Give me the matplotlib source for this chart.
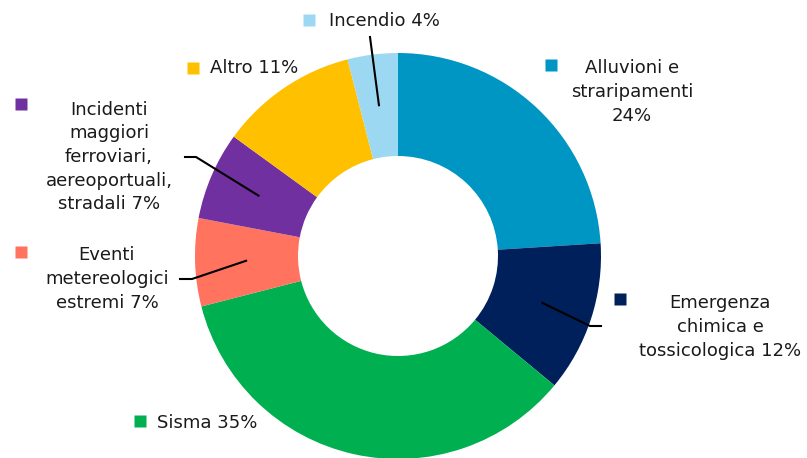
import numpy as np
import matplotlib
matplotlib.use("Agg")
import matplotlib.pyplot as plt

# data (clockwise from 12 o'clock)
categories = ["Alluvioni e\nstraripamenti\n24%", "Emergenza\nchimica e\ntossicologica 12%",
              "Sisma 35%", "Eventi\nmetereologici\nestremi 7%",
              "Incidenti\nmaggiori\nferroviari,\naereoportuali,\nstradali 7%",
              "Altro 11%", "Incendio 4%"]
values = [24, 12, 35, 7, 7, 11, 4]
colors = ["#0096C3", "#00205B", "#00B050", "#FF735F", "#7030A0", "#FFC000", "#9DD8F2"]

W, H = 807, 458
cx, cy, R, r_in = 398, 256, 203, 100

fig = plt.figure(figsize=(W / 100, H / 100), dpi=100)
ax = fig.add_axes([0, 0, 1, 1])

def py(y):  # pixel row -> data y
    return H - y

wedges, _ = ax.pie(values, colors=colors, startangle=90, counterclock=False,
                   center=(cx, py(cy)), radius=R,
                   wedgeprops=dict(width=R - r_in, linewidth=0), frame=True)
ax.set_xlim(0, W)
ax.set_ylim(0, H)
ax.axis("off")

# label layout: (square x, square y, text x, text y, ha, leader points or None)
layout = [
    (551, 65, 632, 92, "center", None),
    (620, 299, 720, 327, "center", [(601, 326), (590, 326)]),
    (140, 421, 157, 423, "left", None),
    (21, 252, 107, 279, "center", [(180, 279), (192, 279)]),
    (21, 104, 109, 157, "center", [(185, 157), (196, 157)]),
    (193, 68, 210, 68, "left", None),
    (309, 20, 329, 21, "left", [(370, 37)]),
]

tc = "#1A1A1A"
cum = np.cumsum([0] + values[:-1])
for i, (lab, (sx, sy, tx, ty, ha, lead)) in enumerate(zip(categories, layout)):
    ax.plot(sx, py(sy), marker="s", ms=8.5, color=colors[i], mec="none")
    ax.text(tx, py(ty), lab, ha=ha, va="center", multialignment="center",
            fontsize=13, color=tc, family="DejaVu Sans", linespacing=1.4)
    if lead:
        mid = (cum[i] + values[i] / 2) / 100 * 2 * np.pi
        ex = cx + 152 * np.sin(mid)
        ey = cy - 152 * np.cos(mid)
        xs = [p[0] for p in lead] + [ex]
        ys = [py(p[1]) for p in lead] + [py(ey)]
        ax.plot(xs, ys, color="black", lw=1.5)

fig.savefig("out.png", dpi=100)
